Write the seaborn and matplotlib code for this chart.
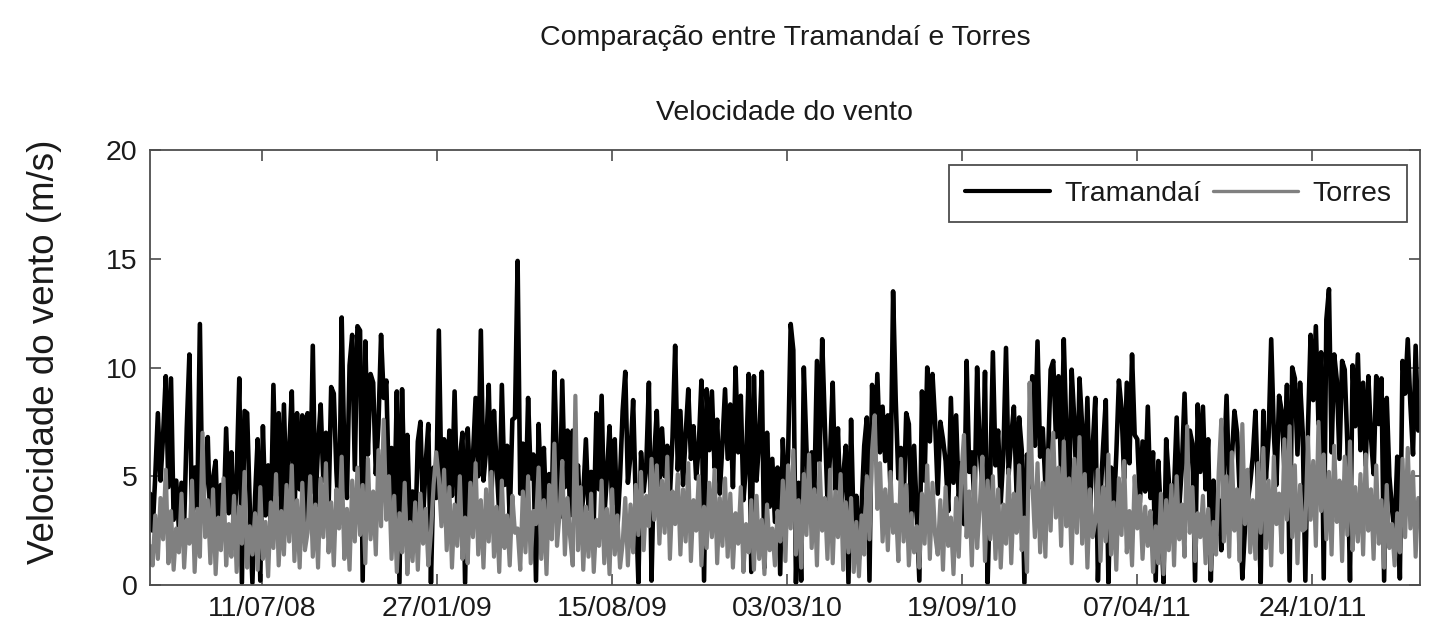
import matplotlib
matplotlib.use("Agg")
import matplotlib.pyplot as plt
import numpy as np
import pandas as pd
import seaborn as sns

# ---------------- data (3-day resolution) ----------------
start_date = "05/03/08"
step_days = 3

tramandai = [
    4.2, 2.5, 5.0, 7.9, 4.8, 6.9, 9.6, 4.5, 9.5, 3.0, 4.8, 2.6, 4.7, 2.8, 7.2, 10.6, 2.7, 5.4, 3.5, 12.0,
    3.1, 5.2, 6.8, 2.4, 4.9, 5.7, 1.8, 4.6, 2.9, 7.2, 3.3, 6.1, 2.2, 5.0, 9.5, 0.1, 8.0, 7.9, 3.6, 0.1,
    4.0, 6.7, 0.2, 7.3, 3.2, 5.5, 2.6, 9.2, 4.1, 7.9, 2.8, 8.3, 3.9, 6.2, 8.9, 3.0, 7.9, 4.4, 7.8, 2.5,
    7.9, 4.2, 11.0, 3.6, 6.4, 8.3, 4.8, 7.0, 3.5, 9.1, 8.8, 5.2, 2.8, 12.3, 6.1, 4.0, 10.1, 11.5, 5.3, 11.9,
    11.7, 0.2, 11.2, 6.0, 9.7, 9.3, 5.1, 7.4, 11.5, 8.6, 9.4, 4.2, 6.3, 3.1, 8.9, 0.1, 9.0, 3.8, 6.9, 2.7,
    4.3, 2.2, 6.6, 7.5, 3.0, 5.6, 7.4, 0.1, 5.4, 4.0, 11.7, 4.5, 6.7, 3.4, 7.1, 4.1, 8.9, 3.7, 5.8, 7.0,
    0.1, 7.2, 4.4, 5.9, 8.6, 5.0, 11.7, 4.8, 6.2, 9.2, 3.9, 8.0, 5.5, 3.3, 9.2, 4.6, 6.4, 3.0, 7.6, 7.7,
    14.9, 4.2, 6.5, 3.6, 8.6, 4.9, 6.0, 0.2, 7.4, 3.8, 6.3, 2.9, 5.1, 3.4, 9.8, 5.6, 3.1, 9.4, 4.5, 7.1,
    3.2, 7.1, 4.6, 5.5, 2.8, 4.1, 6.7, 3.5, 5.2, 2.9, 7.9, 4.4, 8.7, 3.1, 5.0, 7.3, 3.7, 6.7, 2.6, 4.9,
    8.0, 9.8, 4.7, 6.0, 8.5, 3.9, 0.1, 6.1, 4.3, 5.5, 9.3, 0.2, 5.9, 8.0, 4.6, 7.2, 5.0, 6.4, 4.1, 6.8,
    11.0, 5.3, 8.0, 4.6, 6.9, 9.0, 5.8, 7.3, 4.9, 6.4, 9.4, 0.2, 9.0, 6.2, 8.9, 5.4, 7.6, 4.2, 6.5, 9.0,
    5.8, 8.3, 4.5, 10.0, 6.1, 8.7, 3.9, 5.5, 9.7, 0.6, 9.6, 4.8, 6.7, 9.8, 0.8, 7.0, 3.6, 5.8, 2.9, 5.4,
    0.5, 6.7, 3.8, 5.9, 12.0, 10.8, 0.1, 4.7, 0.2, 10.0, 6.3, 3.5, 6.1, 4.2, 10.3, 5.7, 11.3, 7.4, 3.9, 6.0,
    9.3, 4.4, 7.2, 3.3, 5.0, 6.4, 0.1, 7.6, 2.5, 4.1, 1.2, 3.6, 6.4, 7.7, 0.2, 9.2, 5.8, 9.7, 6.1, 8.2,
    5.7, 7.8, 4.4, 13.5, 8.5, 4.9, 6.3, 3.7, 7.9, 7.4, 2.6, 6.4, 3.3, 0.2, 8.9, 4.8, 10.0, 6.6, 9.7, 7.5,
    4.2, 7.5, 6.7, 5.7, 3.4, 8.6, 4.7, 7.8, 3.9, 5.6, 2.8, 10.3, 5.2, 6.1, 3.7, 10.0, 6.2, 4.5, 9.8, 0.1,
    4.9, 10.7, 5.5, 7.1, 3.8, 6.0, 10.9, 5.1, 6.8, 8.2, 4.3, 7.7, 6.2, 0.1, 6.0, 4.5, 9.6, 6.4, 11.2, 5.9,
    7.2, 4.6, 5.8, 9.9, 10.3, 6.8, 9.6, 5.0, 11.3, 7.0, 4.1, 9.9, 7.6, 3.8, 9.5, 7.3, 4.4, 8.6, 3.5, 6.3,
    8.6, 0.2, 4.1, 6.4, 8.5, 0.1, 5.4, 3.2, 6.0, 9.4, 8.1, 4.9, 9.3, 5.6, 10.6, 6.9, 6.7, 3.8, 6.6, 4.3,
    8.2, 4.0, 6.1, 0.2, 5.7, 3.1, 0.1, 6.7, 4.8, 2.6, 4.4, 7.7, 3.6, 5.5, 8.8, 4.7, 7.1, 6.5, 0.2, 8.3,
    5.2, 8.2, 4.4, 6.7, 0.2, 4.8, 2.3, 3.9, 1.6, 5.5, 8.7, 4.5, 5.8, 8.0, 7.0, 4.2, 0.3, 2.6, 3.8, 4.7,
    5.9, 8.0, 4.3, 0.1, 8.0, 4.9, 6.8, 11.3, 7.0, 4.6, 8.7, 8.0, 5.4, 9.2, 0.2, 10.0, 9.5, 6.0, 9.3, 7.0,
    0.2, 7.2, 11.5, 8.5, 11.9, 7.4, 10.7, 0.3, 12.2, 13.6, 6.1, 10.6, 9.4, 5.8, 10.3, 9.9, 6.5, 0.2, 10.1, 7.3,
    10.6, 6.2, 9.3, 5.5, 9.6, 6.8, 5.1, 9.6, 7.4, 9.5, 0.2, 8.6, 5.0, 3.5, 2.4, 5.9, 0.3, 10.3, 8.8, 11.3,
    8.3, 6.0, 11.0, 7.1,
]

torres = [
    1.8, 0.9, 3.2, 1.2, 4.0, 2.1, 5.3, 1.0, 3.4, 0.7, 2.6, 1.5, 4.2, 0.8, 3.0, 1.9, 4.8, 0.6, 3.5, 1.3,
    7.0, 2.2, 3.9, 1.0, 4.4, 0.5, 3.1, 1.6, 4.9, 0.9, 2.8, 1.3, 4.1, 0.6, 3.6, 1.9, 5.2, 0.8, 2.7, 1.4,
    3.3, 0.7, 4.5, 1.2, 2.9, 0.4, 3.8, 1.7, 5.1, 0.9, 3.4, 1.4, 4.6, 2.0, 5.5, 1.1, 3.9, 0.8, 4.7, 1.6,
    2.4, 5.0, 1.3, 3.7, 0.8, 4.9, 2.2, 5.6, 1.5, 3.8, 0.9, 4.4, 2.6, 5.9, 1.2, 3.5, 0.7, 4.8, 2.0, 5.4,
    2.3, 4.6, 1.0, 5.8, 2.1, 4.3, 1.4, 6.2, 2.7, 7.6, 3.0, 5.0, 1.2, 4.1, 0.6, 3.3, 1.5, 4.7, 0.5, 2.9,
    1.1, 3.8, 0.7, 4.2, 1.9, 3.5, 0.9, 2.4, 4.6, 6.1, 4.9, 2.7, 5.3, 1.6, 4.5, 0.8, 3.7, 1.8, 5.0, 1.2,
    3.1, 1.0, 4.7, 2.2, 5.6, 1.4, 3.9, 0.8, 4.4, 2.0, 5.2, 1.3, 3.6, 0.6, 4.8, 1.7, 3.2, 0.9, 4.1, 2.4,
    2.6, 0.7, 4.3, 1.5, 5.0, 1.0, 3.4, 2.8, 5.4, 1.2, 3.9, 0.5, 4.6, 2.1, 6.5, 1.8, 3.3, 5.7, 1.4, 4.0,
    2.2, 0.9, 8.7, 1.6, 4.5, 0.7, 3.6, 1.3, 4.2, 0.6, 3.0, 1.8, 4.8, 1.0, 3.5, 0.5, 4.4, 1.4, 3.2, 0.8,
    1.9, 4.0, 0.9, 3.7, 1.5, 4.6, 2.3, 5.2, 1.6, 4.1, 2.7, 5.8, 3.0, 5.5, 1.9, 4.8, 2.4, 5.9, 1.2, 4.3,
    2.8, 5.1, 1.4, 4.4, 2.0, 5.6, 1.1, 3.9, 2.5, 5.0, 0.9, 3.6, 1.7, 4.7, 2.2, 5.3, 1.0, 4.0, 1.8, 4.9,
    1.3, 4.2, 0.8, 3.3, 1.9, 4.5, 0.6, 2.8, 1.5, 3.9, 0.7, 4.1, 1.2, 3.0, 0.5, 3.7, 1.6, 2.6, 0.9, 3.4,
    2.0, 4.8, 1.1, 5.5, 2.6, 6.2, 1.4, 3.9, 0.8, 5.1, 2.3, 6.0, 1.7, 4.4, 0.9, 5.6, 2.5, 4.0, 1.2, 5.3,
    1.0, 4.3, 2.2, 5.1, 0.7, 3.8, 1.5, 4.0, 0.6, 2.9, 0.4, 3.2, 1.4, 5.0, 2.1, 6.2, 7.8, 3.5, 5.6, 2.0,
    4.4, 1.6, 5.2, 2.4, 3.7, 1.1, 5.8, 2.0, 4.6, 0.9, 3.3, 1.5, 2.7, 0.8, 4.2, 1.9, 5.5, 1.2, 4.7, 2.3,
    1.4, 3.9, 0.7, 4.5, 1.8, 3.1, 0.5, 4.0, 1.3, 5.1, 6.9, 2.2, 4.3, 0.9, 5.4, 1.7, 3.6, 5.9, 1.1, 4.8,
    2.1, 5.0, 1.2, 4.4, 0.8, 3.7, 1.9, 5.3, 1.0, 4.2, 2.4, 5.5, 1.6, 3.1, 0.6, 9.3, 4.8, 2.2, 5.6, 1.5,
    4.7, 1.3, 6.2, 2.5, 7.0, 3.1, 5.4, 1.8, 6.6, 2.7, 4.9, 1.0, 5.8, 2.4, 6.8, 1.9, 5.1, 0.8, 4.4, 2.2,
    2.9, 5.3, 1.1, 4.5, 2.0, 6.0, 1.4, 3.8, 0.7, 4.9, 2.3, 5.7, 1.5, 3.4, 0.9, 5.0, 2.6, 4.1, 1.2, 3.6,
    1.8, 3.4, 0.6, 2.7, 1.0, 4.2, 0.5, 3.9, 1.6, 4.6, 0.9, 5.0, 2.1, 3.7, 1.3, 7.3, 2.4, 4.5, 1.1, 3.3,
    2.2, 4.1, 1.0, 3.5, 0.7, 2.9, 1.4, 5.2, 7.6, 2.0, 5.0, 1.3, 6.1, 2.5, 4.4, 1.1, 7.4, 2.8, 5.3, 1.5,
    3.9, 1.2, 5.6, 2.4, 6.3, 1.7, 4.8, 0.9, 5.9, 2.8, 4.2, 1.5, 6.7, 3.0, 7.3, 2.2, 5.5, 1.0, 4.6, 2.5,
    2.6, 6.8, 3.0, 5.7, 1.8, 7.5, 3.4, 6.0, 2.1, 5.2, 1.4, 6.4, 2.9, 4.8, 1.1, 5.9, 2.3, 6.6, 1.6, 4.5,
    2.0, 5.1, 1.4, 6.0, 2.5, 4.4, 1.2, 5.5, 1.9, 3.9, 0.8, 4.6, 1.7, 2.8, 0.9, 3.3, 1.5, 5.8, 2.2, 6.3,
    2.6, 5.2, 1.3, 4.0,
]

end_date = "24/02/12"
tick_labels = ["11/07/08", "27/01/09", "15/08/09", "03/03/10", "19/09/10", "07/04/11", "24/10/11"]
y_ticks = [0, 5, 10, 15, 20]
series_names = ["Tramandaí", "Torres"]
series_colors = ["#000000", "#808080"]

title_text = "Comparação entre Tramandaí e Torres"
subtitle_text = "Velocidade do vento"
ylabel_text = "Velocidade do vento (m/s)"

# ---------------- figure ----------------
sns.set_theme(style="white")
plt.rcParams["font.family"] = ["Liberation Sans", "DejaVu Sans"]

fmt = "%d/%m/%y"
t0 = pd.to_datetime(start_date, format=fmt)
t1 = pd.to_datetime(end_date, format=fmt)
dates_tr = pd.date_range(t0, periods=len(tramandai), freq=f"{step_days}D")
dates_to = pd.date_range(t0, periods=len(torres), freq=f"{step_days}D")

df = pd.concat([
    pd.DataFrame({"data": dates_tr, "vel": tramandai, "estacao": series_names[0]}),
    pd.DataFrame({"data": dates_to, "vel": torres, "estacao": series_names[1]}),
], ignore_index=True)

W, H = 1429, 632
fig = plt.figure(figsize=(W / 100, H / 100), dpi=100)
ax_l, ax_r, ax_t, ax_b = 150, 1420, 150, 585
ax = fig.add_axes([ax_l / W, 1 - ax_b / H, (ax_r - ax_l) / W, (ax_b - ax_t) / H])

for name, color, lw in zip(series_names, series_colors, [3.3, 3.0]):
    sub = df[df["estacao"] == name]
    sns.lineplot(data=sub, x="data", y="vel", color=color, linewidth=lw,
                 estimator=None, sort=False, ax=ax, label=name)

ax.set_xlim(t0, t1)
ax.set_ylim(0, 20)
ax.set_yticks(y_ticks)
ax.set_yticklabels([str(v) for v in y_ticks])
tick_dates = pd.to_datetime(tick_labels, format=fmt)
ax.set_xticks(tick_dates)
ax.set_xticklabels(tick_labels)

ax.tick_params(axis="both", direction="in", length=8, width=1.2, top=True, right=True,
               bottom=True, left=True, labelsize=20.5, labelcolor="#1a1a1a", color="#4d4d4d")
ax.tick_params(axis="x", pad=8)
ax.tick_params(axis="y", pad=9)
for s in ax.spines.values():
    s.set_visible(True)
    s.set_color("#4d4d4d")
    s.set_linewidth(1.3)
    s.set_zorder(5)

ax.set_xlabel("")
ax.set_ylabel(ylabel_text, fontsize=26.5, color="#1a1a1a")
ax.yaxis.set_label_coords(-0.069, (ax_b - 352) / (ax_b - ax_t))

ax.set_title(subtitle_text, fontsize=20.5, color="#1a1a1a",
             y=(ax_b - 113) / (ax_b - ax_t), va="center", pad=0)
fig.text(((ax_l + ax_r) / 2) / W, 1 - 38 / H, title_text, ha="center", va="center",
         fontsize=20.5, color="#1a1a1a")

leg = ax.legend(loc="upper right", bbox_to_anchor=((1407 - ax_l) / (ax_r - ax_l), (ax_b - 165) / (ax_b - ax_t)),
                ncol=2, fontsize=20.5, frameon=True, fancybox=False, framealpha=1,
                edgecolor="#4d4d4d", borderpad=0.55, handlelength=3.0, handletextpad=0.5,
                columnspacing=0.4, borderaxespad=0)
leg.get_frame().set_linewidth(1.3)
for line in leg.get_lines():
    line.set_linewidth(3.0 if line.get_color() in ("#000000", "black") else 2.4)
for t in leg.get_texts():
    t.set_color("#1a1a1a")

fig.savefig("out.png", dpi=100, facecolor="white")
